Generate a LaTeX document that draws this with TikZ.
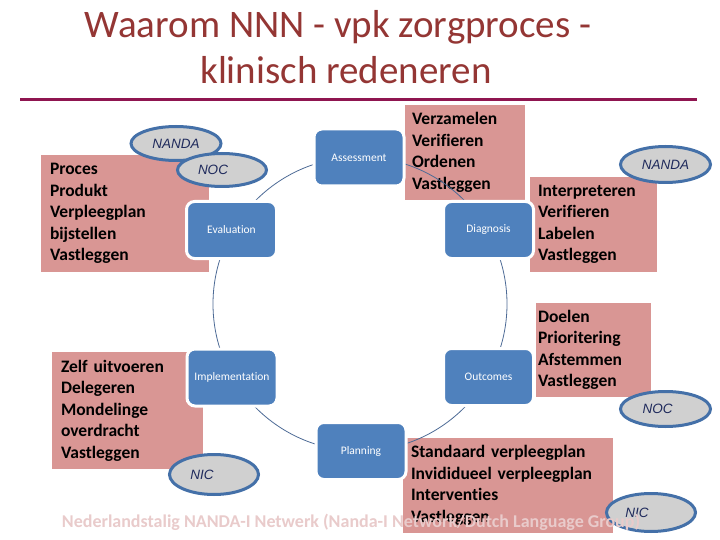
\documentclass[tikz,border=0pt]{standalone}
\usepackage{fontspec}
\setmainfont[Ligatures=NoCommon]{Carlito}
\newfontfamily\arialf{Liberation Sans}
\usetikzlibrary{shapes.geometric}
\definecolor{pinkbox}{HTML}{D99694}
\definecolor{bluebox}{HTML}{4F81BD}
\definecolor{titlered}{HTML}{943634}
\definecolor{rulecol}{HTML}{8F1550}
\definecolor{ellfill}{HTML}{D0D0D0}
\definecolor{ellline}{HTML}{4470A8}
\definecolor{elltext}{HTML}{1F2A5C}
\definecolor{circcol}{HTML}{4D6B96}
\definecolor{footcol}{HTML}{E9CBCB}
\begin{document}
\begin{tikzpicture}[x=1pt,y=-1pt,
  pinkb/.style={rectangle, fill=pinkbox, inner ysep=0pt, align=left, font=\fontsize{17.5}{21.5}\selectfont\bfseries, text=black},
  phase/.style={rectangle, rounded corners=8pt, fill=bluebox, draw=white, line width=3pt, minimum width=90pt, minimum height=57pt, inner sep=0pt, text=white, font=\fontsize{11.5}{13}\selectfont},
  tag/.style={ellipse, fill=ellfill, draw=ellline, line width=3pt, minimum width=89pt, minimum height=34pt, inner sep=0pt, text=elltext, font=\arialf\itshape\fontsize{13.5}{15}\selectfont},
  cyc/.style={draw=circcol, line width=0.8pt},
  titletext/.style={font=\fontsize{39}{47}\selectfont, text=titlered, anchor=base},
  foottext/.style={font=\fontsize{18}{20}\selectfont\bfseries, text=footcol, anchor=base}
]
\useasboundingbox (0,0) rectangle (720,540);
\fill[white] (0,0) rectangle (720,540);

% title
\node[titletext] (t1) at (338,38) {Waarom NNN - vpk zorgproces -};
\node[titletext] (t2) at (346,84) {klinisch redeneren};
\coordinate (rl) at (20,100);
\coordinate (rr) at (697,100);
\draw[rulecol, line width=3pt] (rl) -- (rr);

% pink boxes
\node[pinkb, text width=150pt, inner xsep=9pt, minimum height=117pt] (proc) at (125,213.5) {Proces\\Produkt\\Verpleegplan\\bijstellen\\Vastleggen};
\node[pinkb, text width=133pt, inner xsep=9pt, minimum height=117pt] (zelf) at (127.5,410.5) {Zelf uitvoeren\\Delegeren\\Mondelinge\\overdracht\\Vastleggen};
\node[pinkb, text width=106pt, inner xsep=7pt, minimum height=95pt] (verz) at (465,152.5) {Verzamelen\\Verifieren\\Ordenen\\Vastleggen};
\node[pinkb, text width=111pt, inner xsep=8pt, minimum height=95pt] (interp) at (593.5,224.5) {Interpreteren\\Verifieren\\Labelen\\Vastleggen};
\node[pinkb, text width=111pt, inner xsep=2pt, minimum height=94pt] (doel) at (593.5,350) {Doelen\\Prioritering\\Afstemmen\\Vastleggen};
\node[pinkb, text width=194pt, inner xsep=8pt, minimum height=95pt] (stand) at (508,485.5) {Standaard verpleegplan\\Invididueel verpleegplan\\Interventies\\Vastleggen};

% cycle
\coordinate (cc) at (360,304);
\draw[cyc] (cc) circle[radius=147pt];

% phases
\node[phase] (assess) at (359,157.5) {Assessment};
\node[phase] (diag) at (488.5,230) {Diagnosis};
\node[phase] (outc) at (488.5,377) {Outcomes};
\node[phase] (plan) at (361,451) {Planning};
\node[phase] (impl) at (232,377.5) {Implementation};
\node[phase] (eval) at (231.5,230) {Evaluation};

% tags
\node[tag, minimum width=90pt, minimum height=34pt] (nandaL) at (176,143.5) {NANDA};
\node[tag, minimum width=89pt, minimum height=33pt] (nocL) at (222,170) {NOC\kern18pt};
\node[tag, minimum width=90pt, minimum height=36pt] (nandaR) at (665.5,164.5) {NANDA};
\node[tag, minimum width=89pt, minimum height=40pt] (nicL) at (214,474.5) {NIC\kern24pt};
\node[tag, minimum width=90pt, minimum height=35pt] (nocR) at (665.5,409) {NOC\kern16pt};
\node[tag, minimum width=89pt, minimum height=38pt] (nicR) at (651,512.5) {NIC\kern28pt};

% footer
\node[foottext] (foot) at (351,527) {Nederlandstalig NANDA-I Netwerk (Nanda-I Network/Dutch Language Group)};
\end{tikzpicture}
\end{document}
